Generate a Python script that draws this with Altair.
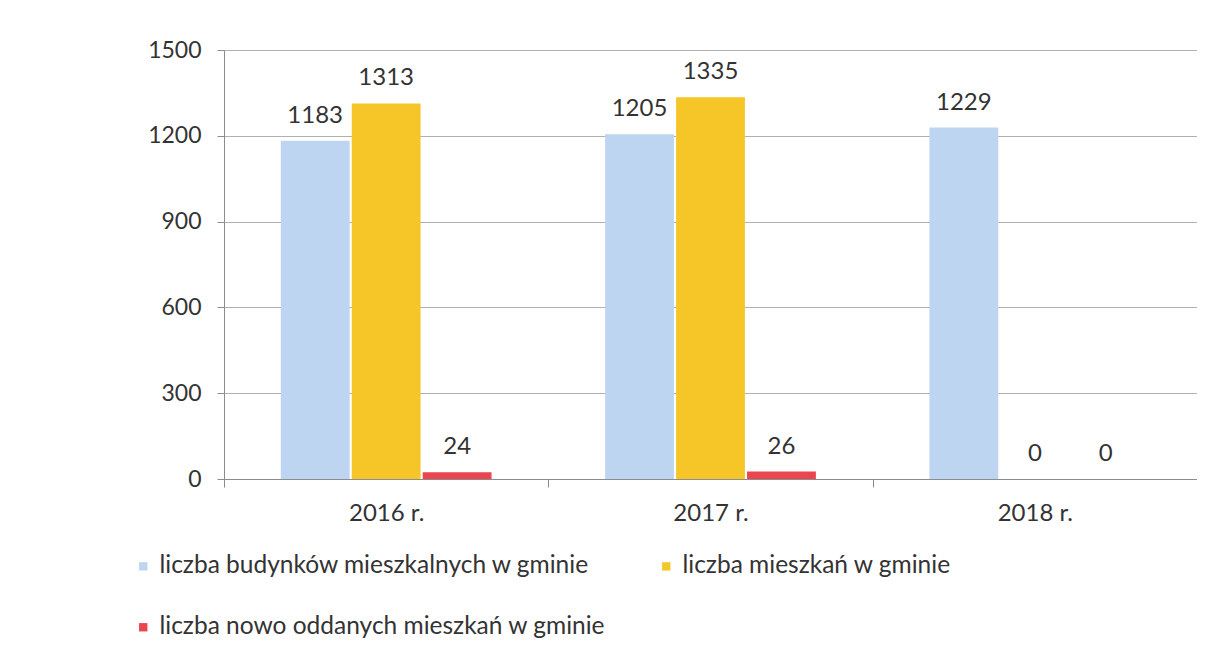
import altair as alt
import pandas as pd

years = ["2016 r.", "2017 r.", "2018 r."]
series = [
    "liczba budynków mieszkalnych w gminie",
    "liczba mieszkań w gminie",
    "liczba nowo oddanych mieszkań w gminie",
]
budynki = [1183, 1205, 1229]
mieszkania = [1313, 1335, 0]
nowe = [24, 26, 0]
colors = ["#bdd5f0", "#f6c629", "#e9464f"]
y_ticks = [0, 300, 600, 900, 1200, 1500]
legend_order = [series[0], series[2], series[1]]

rows = []
for vals, s in zip([budynki, mieszkania, nowe], series):
    for y, v in zip(years, vals):
        rows.append({"rok": y, "seria": s, "wartosc": v})
df = pd.DataFrame(rows)

FONT = "Lato"

x = alt.X(
    "rok:N",
    sort=years,
    scale=alt.Scale(paddingInner=0, paddingOuter=0),
    axis=alt.Axis(
        title=None,
        labelAngle=0,
        labelFontSize=24,
        labelColor="#333333",
        labelFont=FONT,
        labelPadding=14,
        tickBand="extent",
        tickSize=8,
        tickColor="#8c8c8c",
        domainColor="#8c8c8c",
        grid=False,
    ),
)
xo = alt.XOffset(
    "seria:N",
    sort=series,
    scale=alt.Scale(paddingOuter=0.8, paddingInner=0.03),
)
y = alt.Y(
    "wartosc:Q",
    scale=alt.Scale(domain=[0, 1500], nice=False),
    axis=alt.Axis(
        title=None,
        values=y_ticks,
        labelFontSize=23,
        labelColor="#333333",
        labelFont=FONT,
        labelPadding=16,
        tickSize=7,
        tickColor="#8c8c8c",
        domainColor="#8c8c8c",
        gridColor="#b0b0b0",
        format="d",
    ),
)

color = alt.Color(
    "seria:N",
    sort=series,
    scale=alt.Scale(domain=series, range=colors),
    legend=alt.Legend(
        title=None,
        orient="none",
        legendX=-93,
        legendY=504,
        columns=2,
        values=legend_order,
        columnPadding=48,
        rowPadding=36,
        symbolType="square",
        symbolSize=70,
        symbolStrokeWidth=0,
        labelFontSize=24.5,
        labelFont=FONT,
        labelColor="#333333",
        labelLimit=700,
        symbolOffset=0,
        labelOffset=4,
    ),
)

bars = alt.Chart(df).mark_bar().encode(x=x, xOffset=xo, y=y, color=color)

labels = alt.Chart(df).mark_text(
    baseline="bottom", dy=-13, fontSize=24, font=FONT, color="#333333"
).encode(x=x, xOffset=xo, y=y, text="wartosc:Q")

chart = (
    alt.layer(bars, labels)
    .properties(
        width=973,
        height=429,
        autosize=alt.AutoSizeParams(type="none"),
        padding={"left": 216, "top": 42, "right": 0, "bottom": 160},
        background="white",
    )
    .configure_view(stroke=None)
)

chart.save("out.html", embed_options={"renderer": "svg", "actions": False})
